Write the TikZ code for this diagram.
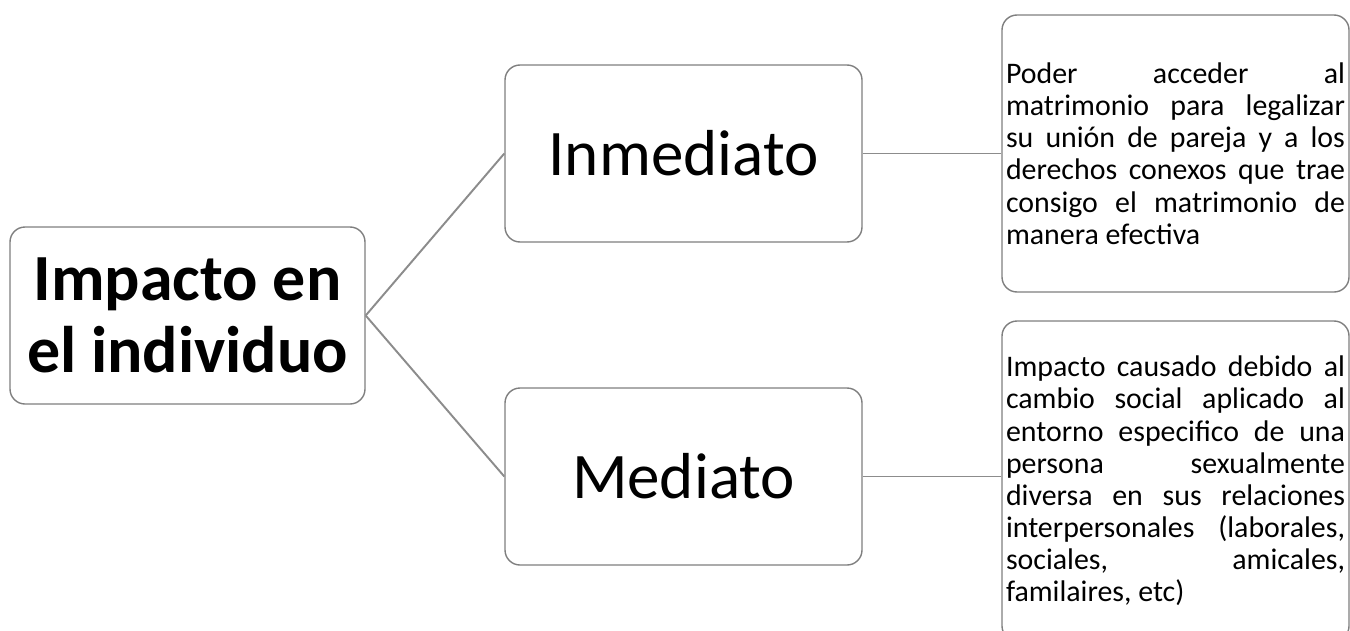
\documentclass[tikz,border=0pt]{standalone}
\usepackage{fontspec}
\setmainfont{Carlito}
\usepackage{xcolor}
\usepackage{tikz}
\hyphenpenalty=10000
\definecolor{cline}{HTML}{8C8C8C}
\definecolor{cedge}{HTML}{7F7F7F}
\tikzset{
  box/.style={draw=cedge,line width=0.8pt,fill=white,rounded corners=0.3cm,inner sep=0pt},
  rootbox/.style={box,minimum width=7.1cm,minimum height=3.54cm,align=center,
    font=\fontsize{37.5}{41}\selectfont\bfseries},
  midbox/.style={box,minimum width=7.14cm,minimum height=3.54cm,font=\fontsize{37}{44}\selectfont},
  txtbox/.style={box,minimum width=6.94cm,text width=6.78cm,align=justify,
    font=\fontsize{17}{18.3}\selectfont},
  link/.style={draw=cline,line width=1.1pt},
}
\begin{document}
\begin{tikzpicture}
\useasboundingbox (0,0) rectangle (27,12.6);
\clip (0,0) rectangle (27,12.6);

% ================= LEFT: root =================
\node[rootbox] (root) at (3.75,6.29) {Impacto en\\el individuo};

% ================= MIDDLE: two kinds =================
\node[midbox] (inme) at (13.67,9.53) {Inmediato};
\node[midbox] (medi) at (13.67,3.07) {Mediato};

% ================= RIGHT: descriptions =================
\node[txtbox,minimum height=5.54cm] (inmetxt) at (23.51,9.53)
  {Poder acceder al\linebreak matrimonio para legalizar\linebreak su uni\'on de pareja y a los\linebreak
   derechos conexos que trae\linebreak consigo el matrimonio de\linebreak manera efectiva};
\node[txtbox,minimum height=6.4cm] (meditxt) at (23.51,2.98)
  {Impacto causado debido al\linebreak cambio social aplicado al\linebreak entorno especifico de una\linebreak
   persona sexualmente\linebreak diversa en sus relaciones\linebreak interpersonales (laborales,\linebreak
   sociales, amicales,\linebreak familaires, etc)};

\path[link] (root.east) -- (inme.west);
\path[link] (root.east) -- (medi.west);
\path[link] (inme.east) -- (inmetxt.west);
\path[link] (medi.east) -- (meditxt.west |- medi.east);

\end{tikzpicture}
\end{document}
